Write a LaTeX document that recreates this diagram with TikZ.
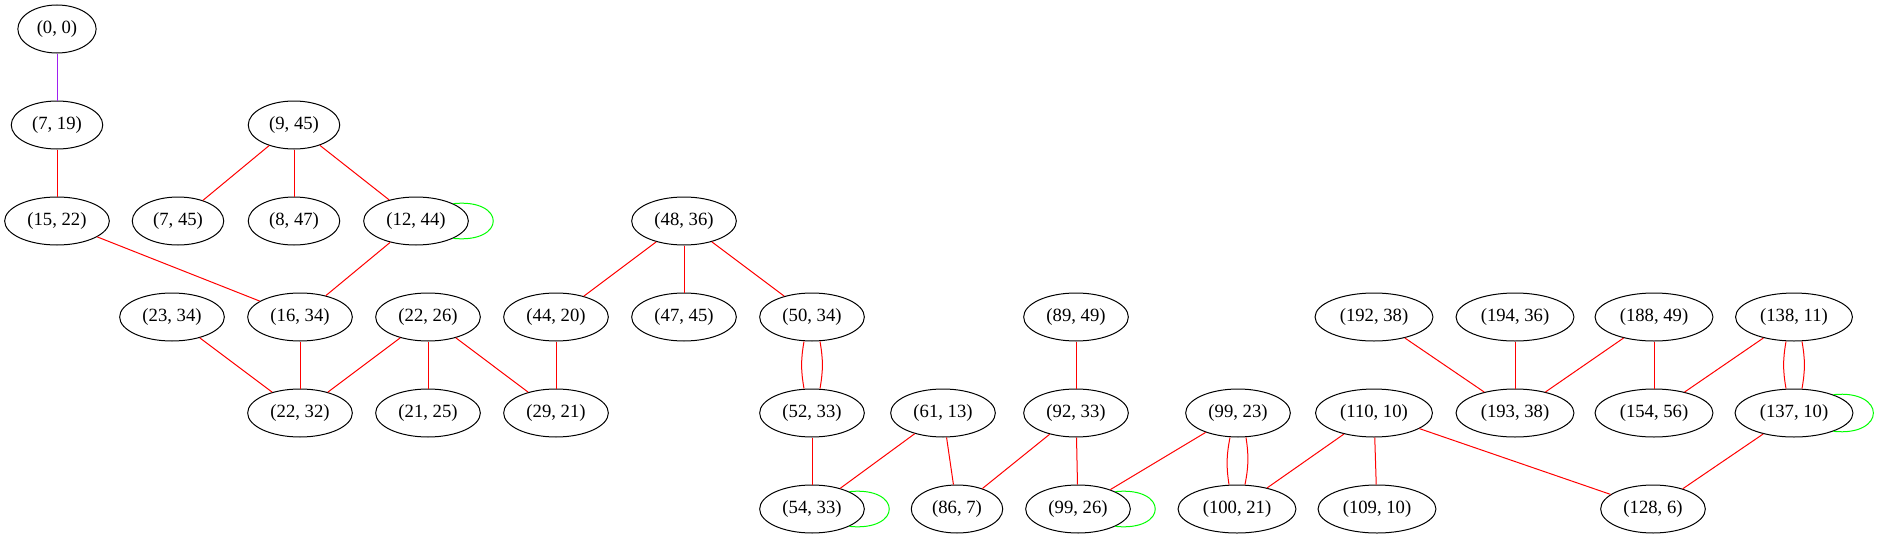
\documentclass[tikz,border=0pt]{standalone}
\usepackage{fontspec}
\setmainfont{Liberation Serif}
\usetikzlibrary{shapes.geometric}
\definecolor{gvred}{HTML}{FF0000}
\definecolor{gvgreen}{HTML}{00FF00}
\definecolor{gvpurple}{HTML}{A020F0}
\begin{document}
\begin{tikzpicture} [
        x=0.75pt, y=-0.75pt,
        pair/.style={draw, ellipse, line width=0.75pt, inner xsep=5.6pt, inner ysep=2pt,
                     minimum height=36pt, font=\fontsize{14pt}{16pt}\selectfont},
        link/.style={draw=gvred, line width=0.75pt},
        selfloop/.style={draw=gvgreen, line width=0.75pt} ]
    \useasboundingbox (0,0) rectangle (1882,539);
    % rank 1 and 2
    \node[pair] (n0_0)   at (57,29)  {(0, 0)};
    \node[pair] (n7_19)  at (57,125) {(7, 19)};
    \node[pair] (n9_45)  at (294,125) {(9, 45)};
    % rank 3
    \node[pair] (n15_22) at (57,221)  {(15, 22)};
    \node[pair] (n7_45)  at (178,221) {(7, 45)};
    \node[pair] (n8_47)  at (294,221) {(8, 47)};
    \node[pair] (n12_44) at (416,221) {(12, 44)};
    \node[pair] (n48_36) at (684,221) {(48, 36)};
    % rank 4
    \node[pair] (n23_34)  at (172,317)  {(23, 34)};
    \node[pair] (n16_34)  at (300,317)  {(16, 34)};
    \node[pair] (n22_26)  at (428,317)  {(22, 26)};
    \node[pair] (n44_20)  at (556,317)  {(44, 20)};
    \node[pair] (n47_45)  at (684,317)  {(47, 45)};
    \node[pair] (n50_34)  at (812,317)  {(50, 34)};
    \node[pair] (n89_49)  at (1076,317) {(89, 49)};
    \node[pair] (n192_38) at (1374,317) {(192, 38)};
    \node[pair] (n194_36) at (1515,317) {(194, 36)};
    \node[pair] (n188_49) at (1654,317) {(188, 49)};
    \node[pair] (n138_11) at (1794,317) {(138, 11)};
    % rank 5
    \node[pair] (n22_32)  at (300,413)  {(22, 32)};
    \node[pair] (n21_25)  at (428,413)  {(21, 25)};
    \node[pair] (n29_21)  at (556,413)  {(29, 21)};
    \node[pair] (n52_33)  at (812,413)  {(52, 33)};
    \node[pair] (n61_13)  at (943,413)  {(61, 13)};
    \node[pair] (n92_33)  at (1076,413) {(92, 33)};
    \node[pair] (n99_23)  at (1238,413) {(99, 23)};
    \node[pair] (n110_10) at (1374,413) {(110, 10)};
    \node[pair] (n193_38) at (1515,413) {(193, 38)};
    \node[pair] (n154_56) at (1654,413) {(154, 56)};
    \node[pair] (n137_10) at (1794,413) {(137, 10)};
    % rank 6
    \node[pair] (n54_33)  at (812,509)  {(54, 33)};
    \node[pair] (n86_7)   at (957,509)  {(86, 7)};
    \node[pair] (n99_26)  at (1078,509) {(99, 26)};
    \node[pair] (n100_21) at (1237,509) {(100, 21)};
    \node[pair] (n109_10) at (1377,509) {(109, 10)};
    \node[pair] (n128_6)  at (1653,509) {(128, 6)};
    % edges
    \draw[draw=gvpurple, line width=0.75pt] (n0_0) -- (n7_19);
    \draw[link] (n7_19) -- (n15_22);
    \draw[link] (n15_22) -- (n16_34);
    \draw[link] (n9_45) edge (n7_45) edge (n8_47) edge (n12_44);
    \draw[link] (n12_44) -- (n16_34);
    \draw[link] (n22_32) edge (n23_34) edge (n16_34) edge (n22_26);
    \draw[link] (n22_26) edge (n21_25) edge (n29_21);
    \draw[link] (n48_36) edge (n44_20) edge (n47_45) edge (n50_34);
    \draw[link] (n44_20) -- (n29_21);
    \draw[link] ([xshift=-6pt]n50_34.south) to[bend right=10] ([xshift=-6pt]n52_33.north);
    \draw[link] ([xshift=6pt]n50_34.south) to[bend left=10] ([xshift=6pt]n52_33.north);
    \draw[link] (n52_33) -- (n54_33);
    \draw[link] (n61_13) edge (n54_33) edge (n86_7);
    \draw[link] (n89_49) -- (n92_33);
    \draw[link] (n92_33) edge (n86_7) edge (n99_26);
    \draw[link] (n99_23) -- (n99_26);
    \draw[link] ([xshift=-6pt]n99_23.south) to[bend right=10] ([xshift=-6pt]n100_21.north);
    \draw[link] ([xshift=6pt]n99_23.south) to[bend left=10] ([xshift=6pt]n100_21.north);
    \draw[link] (n110_10) edge (n100_21) edge (n109_10) edge (n128_6);
    \draw[link] (n193_38) edge (n192_38) edge (n194_36) edge (n188_49);
    \draw[link] (n188_49) -- (n154_56);
    \draw[link] (n138_11) -- (n154_56);
    \draw[link] ([xshift=-6pt]n138_11.south) to[bend right=10] ([xshift=-6pt]n137_10.north);
    \draw[link] ([xshift=6pt]n138_11.south) to[bend left=10] ([xshift=6pt]n137_10.north);
    \draw[link] (n137_10) -- (n128_6);
    % self loops
    \foreach \n in {n12_44, n54_33, n99_26, n137_10}
        \draw[selfloop] (\n.25) .. controls +(40pt,4pt) and +(40pt,-4pt) .. (\n.-25);
\end{tikzpicture}
\end{document}
